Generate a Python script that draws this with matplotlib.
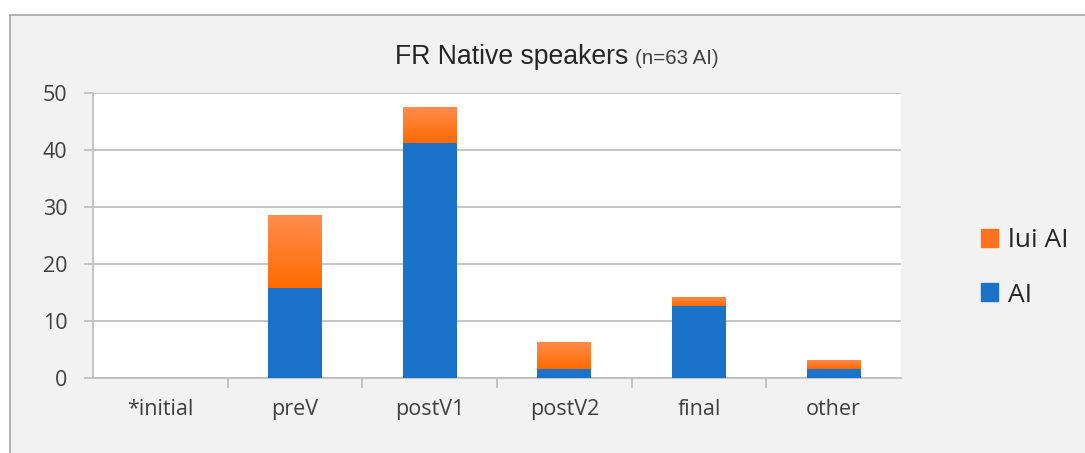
import numpy as np
import matplotlib
matplotlib.use("Agg")
import matplotlib.pyplot as plt
from matplotlib.patches import Rectangle, Patch
from matplotlib.colors import LinearSegmentedColormap

plt.rcParams["font.family"] = ["Open Sans", "DejaVu Sans"]

# Données (en %, n=63)
categories = ["*initial", "preV", "postV1", "postV2", "final", "other"]
ai_values = [0, 15.87, 41.27, 1.59, 12.70, 1.59]
lui_ai_values = [0, 12.70, 6.35, 4.76, 1.59, 1.59]
yticks = [0, 10, 20, 30, 40, 50]

BLUE = "#1a73c8"
ORANGE_TOP = "#ff8d4f"
ORANGE_BOT = "#ff6a00"
GRID = "#c0c0c0"
TEXT = "#404040"

fig = plt.figure(figsize=(10.85, 4.53), dpi=100)
fig.patch.set_facecolor("white")

# cadre gris du graphique
W, H = 1085, 453
fig.patches.append(Rectangle((10 / W, -0.01), 1.0, (H - 15) / H + 0.01,
                             transform=fig.transFigure, facecolor="#f2f2f2",
                             edgecolor="#a6a6a6", linewidth=1.2, zorder=-1))

ax = fig.add_axes([93 / W, (H - 378) / H, (901 - 93) / W, (378 - 93) / H])
ax.set_facecolor("white")

x = np.arange(len(categories))
ax.bar(x, ai_values, width=0.4, color=BLUE, zorder=3)
orange_bars = ax.bar(x, lui_ai_values, width=0.4, bottom=ai_values, color=ORANGE_BOT, zorder=3)

# dégradé orange comme dans Excel
grad = LinearSegmentedColormap.from_list("orng", [ORANGE_BOT, ORANGE_TOP])
for b in orange_bars:
    if b.get_height() <= 0:
        continue
    x0, y0, w, h = b.get_x(), b.get_y(), b.get_width(), b.get_height()
    im = ax.imshow(np.linspace(0, 1, 100).reshape(-1, 1), cmap=grad, origin="lower",
                   extent=(x0, x0 + w, y0, y0 + h), aspect="auto", zorder=4)
    im.set_clip_path(b)

ax.set_xlim(-0.5, len(categories) - 0.5)
ax.set_ylim(0, 50)
ax.set_yticks(yticks)
ax.yaxis.grid(True, color=GRID, linewidth=1.3, zorder=0)
ax.set_axisbelow(True)

ax.set_xticks(x)
ax.set_xticklabels(categories, fontsize=15.5, color=TEXT)
ax.tick_params(axis="x", length=0, pad=15)
ax.set_xticks(np.arange(0.5, len(categories) - 0.5), minor=True)
ax.tick_params(axis="x", which="minor", length=7, color=GRID, width=1.3)
ax.tick_params(axis="y", labelsize=15.5, labelcolor=TEXT, length=6.5, color=GRID,
               width=1.3, pad=12)

for side in ["top", "right"]:
    ax.spines[side].set_visible(False)
for side in ["left", "bottom"]:
    ax.spines[side].set_color(GRID)
    ax.spines[side].set_linewidth(1.3)

fig.text(628 / W, (H - 57) / H, "FR Native speakers", fontsize=19.2, color="#262626",
         ha="right", va="center", family="Liberation Sans")
fig.text(635 / W, (H - 59) / H, "(n=63 AI)", fontsize=14.8, color="#404040",
         ha="left", va="center", family="Liberation Sans")

handles = [Patch(color="#ff7320"), Patch(color=BLUE)]
leg = fig.legend(handles, ["lui AI", "AI"], loc="center left",
                 bbox_to_anchor=(957 / W, (H - 268) / H), frameon=False,
                 fontsize=19, handlelength=0.65, handleheight=0.65,
                 handletextpad=0.38, labelspacing=1.1)
for t in leg.get_texts():
    t.set_color("#262626")

fig.savefig("out.png", dpi=100)
